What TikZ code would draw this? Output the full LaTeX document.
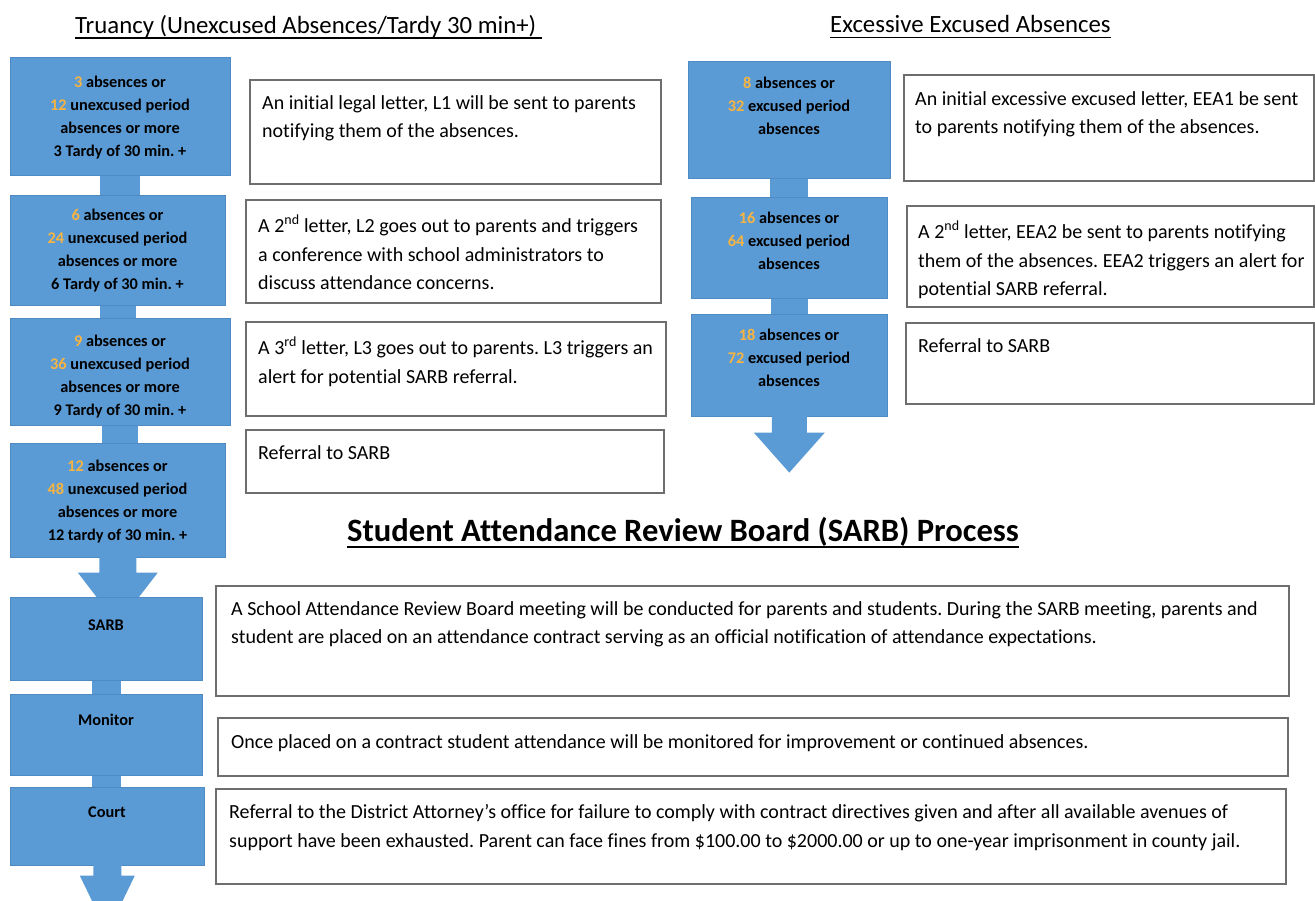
\documentclass[tikz,border=0pt]{standalone}
\usepackage{fontspec}
\setmainfont{Carlito}[Ligatures=NoCommon]
\usetikzlibrary{calc}
\definecolor{boxblue}{HTML}{5B9BD5}
\definecolor{boxedge}{HTML}{4E8AC4}
\definecolor{numc}{HTML}{F7B441}
\definecolor{wedge}{HTML}{6E6E6E}
\newcommand\nm[1]{\textcolor{numc}{#1}}
\newcommand\myul[3]{\setbox0=\hbox{#3}\rlap{\rule[-#1]{\wd0}{#2}}\box0}
\newcommand\myblockarrow[5]{\fill[boxblue] ($(#1)+(-#2,-1)$) -- ++(0,#3+1) -- ++(#2-#4,0) -- ++(#4,#5) -- ++(#4,-#5) -- ++(#2-#4,0) -- ++(0,-#3-1) -- cycle;}
\frenchspacing
\begin{document}
\frenchspacing
\begin{tikzpicture}[x=1pt,y=-1pt,
  bluebox/.style={rectangle, fill=boxblue, draw=boxedge, line width=0.6pt, inner sep=0, anchor=north west},
  whitebox/.style={rectangle, fill=white, draw=wedge, line width=1.6pt, inner sep=0, anchor=north west},
  bluetext/.style={anchor=north, align=center, inner sep=0, font=\fontsize{16.3}{23}\selectfont\bfseries},
  wtext/.style={anchor=north west, align=left, inner sep=0, font=\fontsize{20}{28.7}\selectfont\frenchspacing},
  neck/.style={draw=boxblue, line width=#1}]
\useasboundingbox (0,0) rectangle (1315,901);
\clip (0,0) rectangle (1315,901);
\fill[white] (0,0) rectangle (1315,901);

% titles
\node[anchor=west, inner sep=0, font=\fontsize{24.8}{29}\selectfont] (title1) at (75,27) {\myul{5.5pt}{1.6pt}{Truancy (Unexcused Absences/Tardy 30 min+)\ }};
\node[anchor=west, inner sep=0, font=\fontsize{24.8}{29}\selectfont] (title2) at (830,27) {\myul{5.5pt}{1.6pt}{Excessive Excused Absences}};
\node[anchor=west, inner sep=0, font=\fontsize{32.6}{37}\selectfont\bfseries] (title3) at (347,533) {\myul{6.5pt}{2.6pt}{Student Attendance Review Board (SARB) Process}};

% truancy column
\node[bluebox, minimum width=220, minimum height=118] (t1) at (10,57) {};
\node[bluebox, minimum width=215, minimum height=110] (t2) at (10,195) {};
\node[bluebox, minimum width=220, minimum height=107] (t3) at (10,318) {};
\node[bluebox, minimum width=215, minimum height=114] (t4) at (10,443) {};
\draw[neck=40] (t1.south) -- (t1.south |- t2.north);
\draw[neck=36] (t2.south) -- (t2.south |- t3.north);
\draw[neck=36] (t3.south) -- (t3.south |- t4.north);
\myblockarrow{t4.south}{18.5}{15}{40}{52}

\node[bluetext] (t1t) at (120,75.5) {\nm{3} absences or\\\nm{12} unexcused period\\absences or more\\3 Tardy of 30 min. +};
\node[bluetext] (t2t) at (117.5,208.5) {\nm{6} absences or\\\nm{24} unexcused period\\absences or more\\6 Tardy of 30 min. +};
\node[bluetext] (t3t) at (120,334.5) {\nm{9} absences or\\\nm{36} unexcused period\\absences or more\\9 Tardy of 30 min. +};
\node[bluetext] (t4t) at (117.5,459.5) {\nm{12} absences or\\\nm{48} unexcused period\\absences or more\\12 tardy of 30 min. +};

\node[whitebox, minimum width=411, minimum height=104] (r1) at (249,79) {};
\node[whitebox, minimum width=415, minimum height=103] (r2) at (245,199) {};
\node[whitebox, minimum width=420, minimum height=94] (r3) at (245,321) {};
\node[whitebox, minimum width=418, minimum height=63] (r4) at (245,429) {};
\node[wtext] (r1t) at ($(r1.north west)+(13,16)$) {An initial legal letter, L1 will be sent to parents\\notifying them of the absences.};
\node[wtext] (r2t) at ($(r2.north west)+(13,16)$) {A 2\textsuperscript{nd} letter, L2 goes out to parents and triggers\\a conference with school administrators to\\discuss attendance concerns.};
\node[wtext] (r3t) at ($(r3.north west)+(13,16)$) {A 3\textsuperscript{rd} letter, L3 goes out to parents. L3 triggers an\\alert for potential SARB referral.};
\node[wtext] (r4t) at ($(r4.north west)+(13,16)$) {Referral to SARB};

% excused column
\node[bluebox, minimum width=202, minimum height=117] (e1) at (688,61) {};
\node[bluebox, minimum width=196, minimum height=101] (e2) at (691,197) {};
\node[bluebox, minimum width=196, minimum height=102] (e3) at (691,314) {};
\draw[neck=38] (e1.south) -- (e1.south |- e2.north);
\draw[neck=37] (e2.south) -- (e2.south |- e3.north);
\myblockarrow{e3.south}{17.5}{16}{35.5}{40}

\node[bluetext] (e1t) at (789,76.5) {\nm{8} absences or\\\nm{32} excused period\\absences};
\node[bluetext] (e2t) at (789,211.5) {\nm{16} absences or\\\nm{64} excused period\\absences};
\node[bluetext] (e3t) at (789,328.5) {\nm{18} absences or\\\nm{72} excused period\\absences};

\node[whitebox, minimum width=410, minimum height=106] (er1) at (903,74) {};
\node[whitebox, minimum width=407, minimum height=101] (er2) at (906,205) {};
\node[whitebox, minimum width=408, minimum height=81] (er3) at (905,322) {};
\node[wtext] (er1t) at ($(er1.north west)+(12,17)$) {An initial excessive excused letter, EEA1 be sent\\to parents notifying them of the absences.};
\node[wtext] (er2t) at ($(er2.north west)+(12,16)$) {A 2\textsuperscript{nd} letter, EEA2 be sent to parents notifying\\them of the absences. EEA2 triggers an alert for\\potential SARB referral.};
\node[wtext] (er3t) at ($(er3.north west)+(13,16)$) {Referral to SARB};

% SARB process
\node[bluebox, minimum width=192, minimum height=83] (s1) at (10,597) {};
\node[bluebox, minimum width=192, minimum height=81] (s2) at (10,694) {};
\node[bluebox, minimum width=194, minimum height=78] (s3) at (10,787) {};
\draw[neck=29] (s1.south) -- (s1.south |- s2.north);
\draw[neck=29] (s2.south) -- (s2.south |- s3.north);
\myblockarrow{s3.south}{14}{10}{27.5}{57}

\node[bluetext] (s1t) at (106,619.5) {SARB};
\node[bluetext] (s2t) at (106,713.5) {Monitor};
\node[bluetext] (s3t) at (107,806.5) {Court};

\node[whitebox, minimum width=1073, minimum height=110] (b1) at (215,585) {};
\node[whitebox, minimum width=1070, minimum height=58] (b2) at (217,717) {};
\node[whitebox, minimum width=1070, minimum height=95] (b3) at (215,788) {};
\node[wtext] (b1t) at ($(b1.north west)+(16,16)$) {A School Attendance Review Board meeting will be conducted for parents and students. During the SARB meeting, parents and\\student are placed on an attendance contract serving as an official notification of attendance expectations.};
\node[wtext] (b2t) at ($(b2.north west)+(14,17)$) {Once placed on a contract student attendance will be monitored for improvement or continued absences.};
\node[wtext] (b3t) at ($(b3.north west)+(14,16)$) {Referral to the District Attorney’s office for failure to comply with contract directives given and after all available avenues of\\support have been exhausted. Parent can face fines from \$100.00 to \$2000.00 or up to one-year imprisonment in county jail.};
\end{tikzpicture}
\end{document}
